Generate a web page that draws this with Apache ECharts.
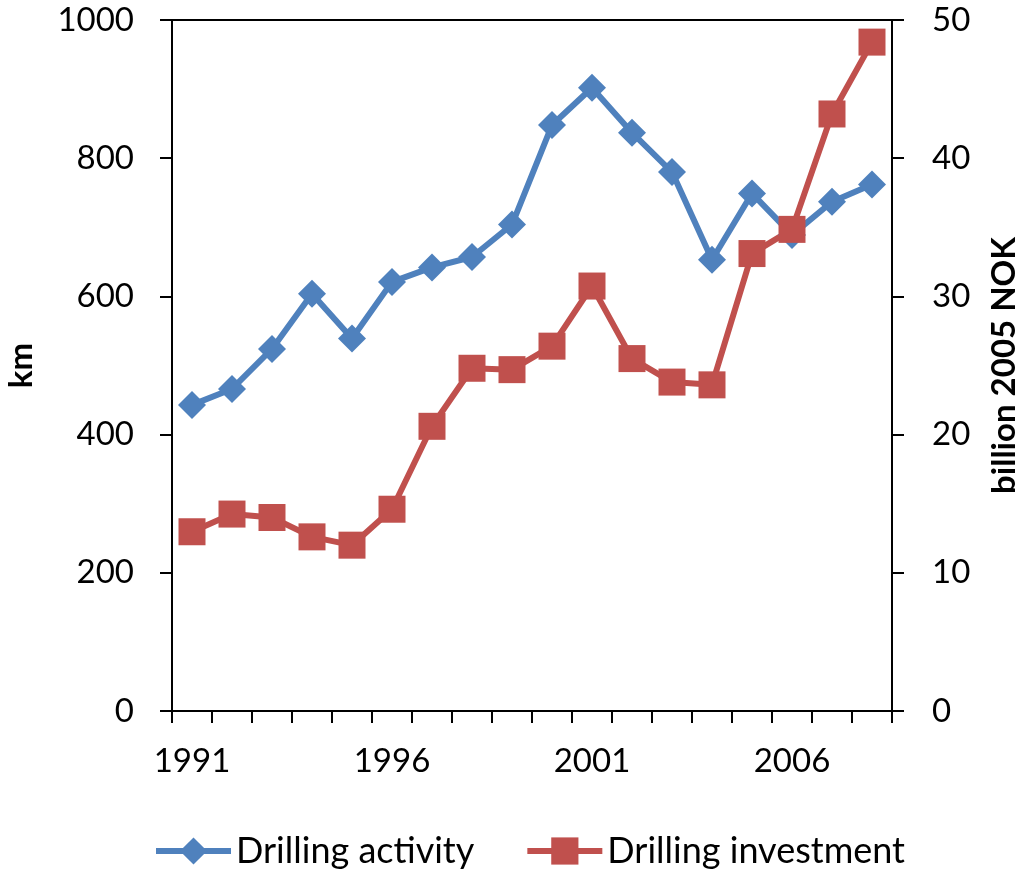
<!DOCTYPE html>
<html>
<head>
<meta charset="utf-8">
<script src="https://cdn.jsdelivr.net/npm/echarts@6/dist/echarts.min.js"></script>
<style>
html,body{margin:0;padding:0;background:#fff;}
#chart{width:1024px;height:875px;}
</style>
</head>
<body>
<div id="chart"></div>
<script>
const years = ['1991','1992','1993','1994','1995','1996','1997','1998','1999','2000','2001','2002','2003','2004','2005','2006','2007','2008'];
const drillingActivity = [443,466,524,604,539,621,642,657,704,848,902,837,780,653,749,689,737,762];
const drillingInvestment = [12.97,14.25,14.0,12.6,12.0,14.6,20.6,24.8,24.7,26.4,30.75,25.5,23.8,23.6,33.1,34.85,43.2,48.4];
const leftTicks = {min:0, max:1000, interval:200};
const rightTicks = {min:0, max:50, interval:10};

const FONT = 'Lato';
const chart = echarts.init(document.getElementById('chart'), null, {renderer:'canvas'});
const axisLineStyle = {color:'#000', width:2};
chart.setOption({
  animation:false,
  backgroundColor:'#fff',
  textStyle:{fontFamily:FONT},
  grid:{left:172, right:132, top:20, bottom:164, containLabel:false, outerBoundsMode:'none',
        show:true, borderColor:'#000', borderWidth:2, backgroundColor:'transparent'},
  legend:{
    data:['Drilling activity','Drilling investment'],
    left:148, top:828,
    itemWidth:75, itemHeight:34, itemGap:50,
    lineStyle:{width:6},
    textStyle:{fontFamily:FONT, fontSize:36, color:'#000'}
  },
  xAxis:{
    type:'category', data:years, boundaryGap:true,
    axisLine:{lineStyle:axisLineStyle},
    axisTick:{show:true, interval:0, length:12, lineStyle:axisLineStyle, alignWithLabel:false},
    axisLabel:{interval:4, margin:34, fontFamily:FONT, fontSize:33, color:'#000'},
    splitLine:{show:false}
  },
  yAxis:[{
    type:'value', min:leftTicks.min, max:leftTicks.max, interval:leftTicks.interval,
    name:'km', nameLocation:'middle', nameGap:134, nameRotate:90,
    nameTextStyle:{fontFamily:FONT, fontSize:33, fontWeight:'bold', color:'#000'},
    axisLine:{show:true, lineStyle:axisLineStyle},
    axisTick:{show:true, length:12, lineStyle:axisLineStyle},
    axisLabel:{margin:38, fontFamily:FONT, fontSize:33, color:'#000', formatter:function(v){return String(v);}},
    splitLine:{show:false}
  },{
    type:'value', min:rightTicks.min, max:rightTicks.max, interval:rightTicks.interval, position:'right',
    name:'billion 2005 NOK', nameLocation:'middle', nameGap:96, nameRotate:90,
    nameTextStyle:{fontFamily:FONT, fontSize:33, fontWeight:'bold', color:'#000'},
    axisLine:{show:true, lineStyle:axisLineStyle},
    axisTick:{show:true, length:12, lineStyle:axisLineStyle},
    axisLabel:{margin:40, fontFamily:FONT, fontSize:33, color:'#000'},
    splitLine:{show:false}
  }],
  series:[{
    name:'Drilling activity', type:'line', yAxisIndex:0, data:drillingActivity,
    symbol:'diamond', symbolSize:28, showSymbol:true, showAllSymbol:true,
    lineStyle:{color:'#4F81BD', width:6},
    itemStyle:{color:'#4F81BD'}
  },{
    name:'Drilling investment', type:'line', yAxisIndex:1, data:drillingInvestment,
    symbol:'rect', symbolSize:27, showSymbol:true, showAllSymbol:true,
    lineStyle:{color:'#C0504D', width:6},
    itemStyle:{color:'#C0504D'}
  }]
});
</script>
</body>
</html>
